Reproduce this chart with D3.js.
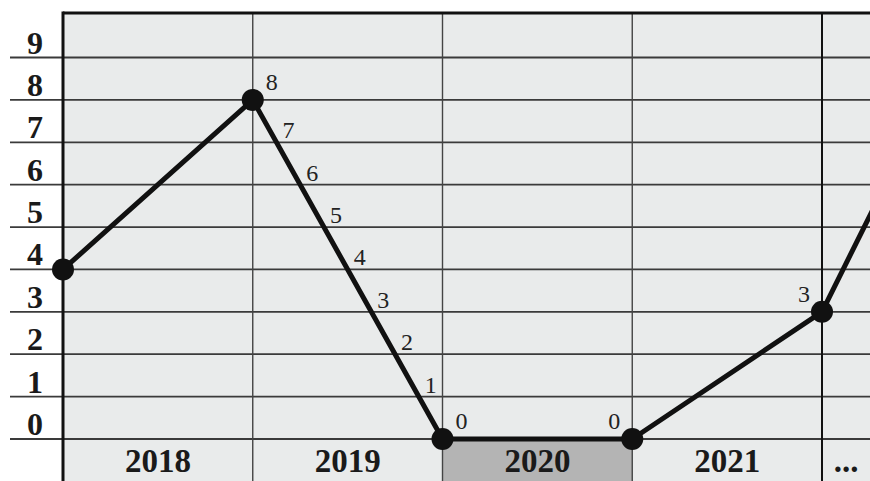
<!DOCTYPE html>
<html>
<head>
<meta charset="utf-8">
<script src="https://cdn.jsdelivr.net/npm/d3@7"></script>
<style>
  body { margin: 0; background: #fff; }
  svg { display: block; }
</style>
</head>
<body>
<svg id="main" width="870" height="481"></svg>
<script>
// data
var years = ["2018", "2019", "2020", "2021", "..."];
var yTicks = [0, 1, 2, 3, 4, 5, 6, 7, 8, 9];
var pointT = [0, 1, 2, 3, 4, 5];
var pointV = [4, 8, 0, 0, 3, 12];
var crossLabels = [7, 6, 5, 4, 3, 2, 1]; // numbers written along the 2019 drop
var shadedYear = "2020";

var svg = d3.select("#main"),
    W = +svg.attr("width"),
    H = +svg.attr("height");

var plotLeft = 63, plotTop = 13;

var xScale = d3.scaleLinear().domain([0, 4]).range([plotLeft, 822]),
    yScale = d3.scaleLinear().domain([0, 9]).range([439, 57.5]);

var pts = pointT.map(function(t, i) { return {t: t, v: pointV[i]}; });

// plot background
svg.append("rect")
    .attr("x", plotLeft).attr("y", plotTop)
    .attr("width", W - plotLeft).attr("height", H - plotTop)
    .attr("fill", "#e9ebeb");

// shaded year cell in the bottom row
svg.append("rect")
    .attr("x", xScale(years.indexOf(shadedYear)))
    .attr("y", yScale(0))
    .attr("width", xScale(1) - xScale(0))
    .attr("height", yScale(-1) - yScale(0))
    .attr("fill", "#b4b4b4");

// horizontal grid
svg.append("g").selectAll("line")
    .data(yTicks)
    .enter().append("line")
    .attr("x1", 10).attr("x2", W)
    .attr("y1", function(d) { return yScale(d); })
    .attr("y2", function(d) { return yScale(d); })
    .attr("stroke", "#3a3a3a")
    .attr("stroke-width", 1.8);

// vertical grid
svg.append("g").selectAll("line")
    .data(d3.range(1, years.length))
    .enter().append("line")
    .attr("x1", function(d) { return xScale(d); })
    .attr("x2", function(d) { return xScale(d); })
    .attr("y1", plotTop).attr("y2", H)
    .attr("stroke", function(d) { return d == 4 ? "#111" : "#444"; })
    .attr("stroke-width", function(d) { return d == 4 ? 2 : 1.4; });

// borders
svg.append("line")
    .attr("x1", plotLeft).attr("x2", plotLeft).attr("y1", plotTop - 1.5).attr("y2", H)
    .attr("stroke", "#111").attr("stroke-width", 3);
svg.append("line")
    .attr("x1", plotLeft).attr("x2", W).attr("y1", plotTop).attr("y2", plotTop)
    .attr("stroke", "#111").attr("stroke-width", 3);

var serif = "'Liberation Serif', 'Times New Roman', serif";

// y labels (sit just above their grid line)
svg.append("g").selectAll("text")
    .data(yTicks)
    .enter().append("text")
    .attr("x", 35)
    .attr("y", function(d) { return yScale(d) - 4; })
    .attr("text-anchor", "middle")
    .attr("font-family", serif)
    .attr("font-weight", "bold")
    .attr("font-size", 32)
    .attr("fill", "#1a1a1a")
    .text(function(d) { return d; });

// year labels
svg.append("g").selectAll("text")
    .data(years)
    .enter().append("text")
    .attr("x", function(d, i) {
        var x0 = xScale(i), x1 = Math.min(xScale(i + 1), W);
        return (x0 + x1) / 2;
    })
    .attr("y", yScale(-1) - 9)
    .attr("text-anchor", "middle")
    .attr("font-family", serif)
    .attr("font-weight", "bold")
    .attr("font-size", 33)
    .attr("fill", "#1a1a1a")
    .text(function(d) { return d; });

// the line
var line = d3.line()
    .x(function(d) { return xScale(d.t); })
    .y(function(d) { return yScale(d.v); });

svg.append("path")
    .attr("d", line(pts))
    .attr("fill", "none")
    .attr("stroke", "#111")
    .attr("stroke-width", 5)
    .attr("stroke-linejoin", "round");

svg.append("g").selectAll("circle")
    .data(pts.filter(function(d) { return d.t <= 4; }))
    .enter().append("circle")
    .attr("cx", function(d) { return xScale(d.t); })
    .attr("cy", function(d) { return yScale(d.v); })
    .attr("r", 11)
    .attr("fill", "#111");

var labelFont = function(sel) {
    sel.attr("font-family", serif)
        .attr("font-size", 24)
        .attr("fill", "#222");
};

// point value labels
svg.append("g").selectAll("text")
    .data(pts.filter(function(d) { return d.t <= 4; }).slice(1))
    .enter().append("text")
    .attr("x", function(d) { return xScale(d.t) + (d.t >= 3 ? -12 : 13); })
    .attr("y", function(d) { return yScale(d.v) - 10; })
    .attr("text-anchor", function(d) { return d.t >= 3 ? "end" : "start"; })
    .call(labelFont)
    .text(function(d) { return d.v; });

// labels where the 2019 drop crosses each grid line
var a = pts[1], b = pts[2];
svg.append("g").selectAll("text")
    .data(crossLabels)
    .enter().append("text")
    .attr("x", function(v) {
        var t = a.t + (b.t - a.t) * (a.v - v) / (a.v - b.v);
        return xScale(t) + 6;
    })
    .attr("y", function(v) { return yScale(v) - 4; })
    .call(labelFont)
    .text(function(v) { return v; });
</script>
</body>
</html>
